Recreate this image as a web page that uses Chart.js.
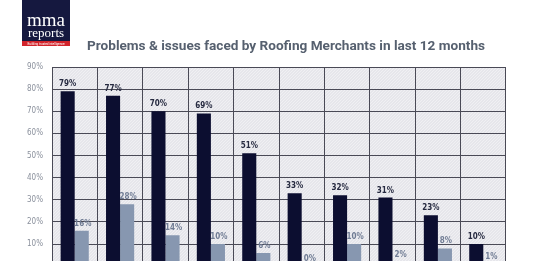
<!DOCTYPE html>
<html>
<head>
<meta charset="utf-8">
<script src="https://cdn.jsdelivr.net/npm/chart.js@4/dist/chart.umd.min.js"></script>
<style>
  html, body { margin: 0; padding: 0; background: #fff; overflow: hidden; }
  #wrap { width: 533px; height: 280px; }
</style>
</head>
<body>
<div id="wrap"><canvas id="roofingChart" width="533" height="280"></canvas></div>
<script>
// categories are not shown in the crop, so they stay short
const categories = ["1", "2", "3", "4", "5", "6", "7", "8", "9", "10"];
const seriesA = [79, 77, 70, 69, 51, 33, 32, 31, 23, 10];
const seriesB = [16, 28, 14, 10, 6, 0, 10, 2, 8, 1];
const yTicks = [0, 10, 20, 30, 40, 50, 60, 70, 80, 90];

const titleText = "Problems & issues faced by Roofing Merchants in last 12 months";

const makeHatch = (ctx) => {
  const p = document.createElement("canvas");
  p.width = 3;
  p.height = 3;
  const c = p.getContext("2d");
  c.fillStyle = "#e6e6eb";
  c.fillRect(0, 0, 3, 3);
  c.fillStyle = "#f0f0f3";
  c.fillRect(2, 0, 1, 1);
  c.fillRect(1, 1, 1, 1);
  c.fillRect(0, 2, 1, 1);
  return ctx.createPattern(p, "repeat");
};

const decorPlugin = {
  id: "decor",
  beforeDraw: function (chart) {
    const ctx = chart.ctx;
    const area = chart.chartArea;
    ctx.save();
    ctx.fillStyle = makeHatch(ctx);
    ctx.fillRect(area.left, area.top, area.right - area.left, area.bottom - area.top);

    // logo
    ctx.fillStyle = "#15183f";
    ctx.fillRect(22, 0, 48, 46);
    ctx.fillStyle = "#d2232a";
    ctx.fillRect(22, 41, 48, 5);
    ctx.fillStyle = "#ffffff";
    ctx.textAlign = "center";
    ctx.textBaseline = "alphabetic";
    ctx.font = "19px 'Liberation Serif'";
    ctx.fillText("mma", 46, 26);
    ctx.font = "13px 'Liberation Serif'";
    ctx.fillText("reports", 46, 37);
    ctx.font = "3px Roboto";
    ctx.fillText("Building trusted intelligence", 46, 44.8);

    // title
    ctx.fillStyle = "#56606f";
    ctx.font = "bold 13.6px Roboto";
    ctx.fillText(titleText, 286, 50);
    ctx.restore();
  },
  afterDatasetsDraw: function (chart) {
    const ctx = chart.ctx;
    ctx.save();
    ctx.textAlign = "center";
    ctx.textBaseline = "alphabetic";
    ctx.font = "bold 8px 'DejaVu Sans Condensed', 'DejaVu Sans'";
    chart.data.datasets.forEach((ds, di) => {
      const meta = chart.getDatasetMeta(di);
      ctx.fillStyle = di === 0 ? "#262a40" : "#707c94";
      meta.data.forEach((bar, i) => {
        ctx.fillText(ds.data[i] + "%", bar.x + (di === 1 ? 1 : 0), bar.y - 5);
      });
    });
    ctx.restore();
  },
};

const canvas = document.getElementById("roofingChart");
new Chart(canvas.getContext("2d"), {
  type: "bar",
  data: {
    labels: categories,
    datasets: [
      {
        label: "A",
        data: seriesA,
        backgroundColor: "#0c0e30",
        categoryPercentage: 0.62,
        barPercentage: 1,
      },
      {
        label: "B",
        data: seriesB,
        backgroundColor: "#8797b0",
        categoryPercentage: 0.62,
        barPercentage: 1,
      },
    ],
  },
  options: {
    responsive: false,
    animation: false,
    layout: { padding: { left: 0, right: 27, top: 67, bottom: 0 } },
    plugins: {
      legend: { display: false },
      tooltip: { enabled: false },
    },
    scales: {
      x: {
        grid: { color: "#4a4a56", lineWidth: 1, drawTicks: false, offset: true },
        border: { color: "#4a4a56" },
        ticks: { display: false },
        afterFit: function (scale) {
          scale.height = 10;
        },
      },
      y: {
        min: 0,
        max: 90,
        afterBuildTicks: function (scale) {
          scale.ticks = yTicks.map((v) => ({ value: v }));
        },
        grid: { color: "#4a4a56", lineWidth: 1, drawTicks: false },
        border: { color: "#4a4a56" },
        ticks: {
          color: "#8a909c",
          padding: 9,
          font: { family: "'DejaVu Sans Condensed', 'DejaVu Sans'", size: 8 },
          callback: function (value) {
            return value + "%";
          },
        },
        afterFit: function (scale) {
          scale.width = 52;
        },
      },
    },
  },
  plugins: [decorPlugin],
});
</script>
</body>
</html>
